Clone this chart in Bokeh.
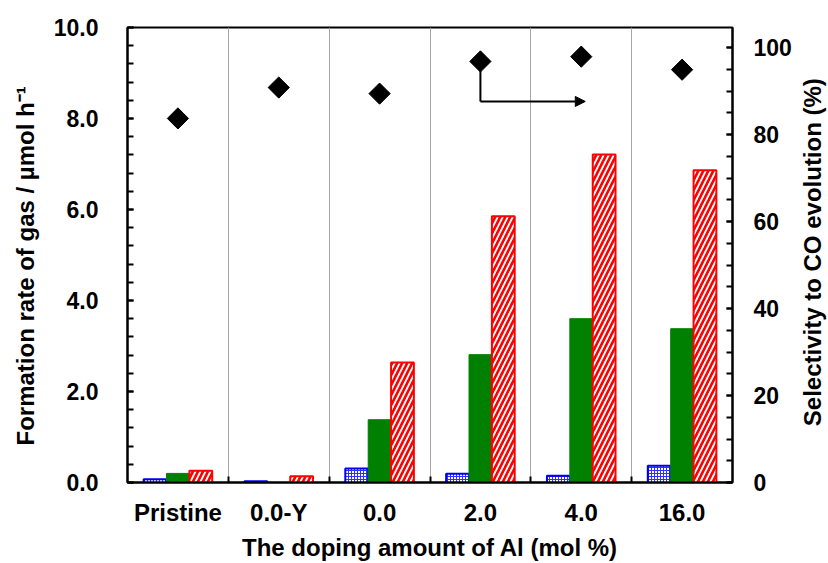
import numpy as np
from bokeh.plotting import figure
from bokeh.layouts import row
from bokeh.models import (Range1d, LinearAxis, FixedTicker, NumeralTickFormatter,
                          CustomJSTickFormatter, Arrow, NormalHead, Label)
from bokeh.embed import file_html
from bokeh.resources import INLINE

categories = ["Pristine", "0.0-Y", "0.0", "2.0", "4.0", "16.0"]
h2_rate = [0.07, 0.03, 0.31, 0.19, 0.15, 0.37]
o2_rate = [0.20, 0.00, 1.38, 2.81, 3.60, 3.38]
co_rate = [0.26, 0.14, 2.64, 5.85, 7.21, 6.86]
selectivity = [83.7, 90.8, 89.4, 96.8, 97.9, 94.9]

left_ticks = [0, 2, 4, 6, 8, 10]
right_ticks = [0, 20, 40, 60, 80, 100]

x_title = "The doping amount of Al (mol %)"
y_title = "Formation rate of gas / \u00b5mol h\u207b\u00b9"
y2_title = "Selectivity to CO evolution (%)"

FONT = "Liberation Sans"
H = 563
LW = 40      # left title strip
RW = 32      # right title strip
MW = 828 - LW - RW

centers = np.arange(len(categories)) + 0.5
BW = 0.226
OFF = 0.227

p = figure(width=MW, height=H, output_backend="svg", toolbar_location=None,
           x_range=Range1d(0, 6), y_range=Range1d(0, 10),
           min_border_left=127 - LW, min_border_right=828 - 732 - RW,
           min_border_top=27, min_border_bottom=81)
p.extra_y_ranges = {"right": Range1d(0, 104.6)}

p.outline_line_color = "black"
p.outline_line_width = 2
p.ygrid.visible = False
p.xgrid.ticker = FixedTicker(ticks=[1, 2, 3, 4, 5])
p.xgrid.grid_line_color = "#a6a6a6"
p.xgrid.grid_line_width = 1

# bars
p.vbar(x=centers - OFF, top=h2_rate, width=BW, bottom=0,
       fill_color="white", line_color="#0000ee", line_width=2,
       hatch_pattern="+", hatch_color="#3030ff", hatch_scale=3, hatch_weight=1)
p.vbar(x=centers, top=o2_rate, width=BW, bottom=0,
       fill_color="#008000", line_color="#008000", line_width=1)
p.vbar(x=centers + OFF, top=co_rate, width=BW, bottom=0,
       fill_color="white", line_color="#ff0000", line_width=2,
       hatch_pattern="/", hatch_color="#ff0000", hatch_scale=10, hatch_weight=2.6)

# arrow pointing to right axis
AX0 = 3.5
AY = 87.6
AX1 = 4.54
p.segment(x0=[AX0], y0=[selectivity[3]], x1=[AX0], y1=[AY], line_color="black",
          line_width=2, y_range_name="right")
p.add_layout(Arrow(end=NormalHead(size=10, fill_color="black", line_color="black"),
                   x_start=AX0, y_start=AY, x_end=AX1, y_end=AY, line_width=2,
                   y_range_name="right"))

p.scatter(x=centers, y=selectivity, marker="square", angle=np.pi / 4, size=15,
          fill_color="black", line_color="black", y_range_name="right")

# axes styling
def style(ax, size="23px"):
    ax.axis_line_width = 2
    ax.axis_line_color = "black"
    ax.major_tick_line_width = 2
    ax.minor_tick_line_width = 2
    ax.major_tick_in = 6
    ax.major_tick_out = 0
    ax.minor_tick_in = 6
    ax.minor_tick_out = 0
    ax.major_label_text_font = FONT
    ax.major_label_text_font_style = "bold"
    ax.major_label_text_font_size = size
    ax.major_label_text_color = "black"
    ax.axis_label_text_font = FONT
    ax.axis_label_text_font_style = "bold"
    ax.axis_label_text_font_size = "24px"
    ax.axis_label_text_color = "black"

xa = p.xaxis[0]
style(xa, "24px")
xa.ticker = FixedTicker(ticks=list(centers), minor_ticks=[1, 2, 3, 4, 5])
xa.formatter = CustomJSTickFormatter(args=dict(labels=categories),
                                     code="return labels[Math.floor(tick)] || '';")
xa.major_tick_line_color = None
xa.major_label_standoff = 16
xa.axis_label = x_title
xa.axis_label_standoff = 5

ya = p.yaxis[0]
style(ya)
ya.ticker = FixedTicker(ticks=left_ticks, minor_ticks=[round(0.4 * i, 1) for i in range(26)])
ya.formatter = NumeralTickFormatter(format="0.0")
ya.major_label_standoff = 29

ra = LinearAxis(y_range_name="right")
style(ra)
ra.ticker = FixedTicker(ticks=right_ticks, minor_ticks=list(range(0, 105, 5)))
ra.formatter = NumeralTickFormatter(format="0")
ra.major_label_standoff = 21
p.add_layout(ra, "right")


# side strips holding the vertical axis titles (reading bottom to top)
def strip(width, text, xpix, ycenter):
    s = figure(width=width, height=H, output_backend="svg", toolbar_location=None,
               x_range=Range1d(0, width), y_range=Range1d(0, H),
               x_axis_type=None, y_axis_type=None,
               min_border_left=0, min_border_right=0, min_border_top=0, min_border_bottom=0)
    s.grid.visible = False
    s.outline_line_color = None
    s.add_layout(Label(text=text, x=xpix, y=H - ycenter, angle=np.pi / 2,
                       text_align="center", text_baseline="middle",
                       text_font=FONT, text_font_style="bold", text_font_size="24px",
                       text_color="black"))
    return s

left_strip = strip(LW, y_title, 25, 295)
right_strip = strip(RW, y2_title, 16, 278)

layout = row(left_strip, p, right_strip, spacing=0)
open("out.html", "w").write(file_html(layout, INLINE))
